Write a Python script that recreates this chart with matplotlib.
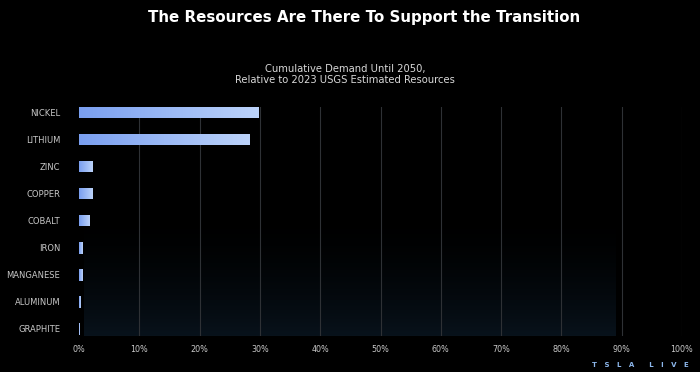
import numpy as np
import matplotlib
matplotlib.use("Agg")
import matplotlib.pyplot as plt
from matplotlib.colors import LinearSegmentedColormap

# data
minerals = ["NICKEL", "LITHIUM", "ZINC", "COPPER", "COBALT", "IRON",
            "MANGANESE", "ALUMINUM", "GRAPHITE"]
demand_pct = [29.7, 28.2, 2.3, 2.3, 1.7, 0.6, 0.6, 0.2, 0.15]
xticks = [0, 10, 20, 30, 40, 50, 60, 70, 80, 90, 100]

title = "The Resources Are There To Support the Transition"
subtitle = "Cumulative Demand Until 2050,\nRelative to 2023 USGS Estimated Resources"

plt.rcParams['font.family'] = ['DejaVu Sans']

fig = plt.figure(figsize=(7, 3.72), dpi=100)
fig.patch.set_facecolor('black')
ax = fig.add_axes([79 / 700, 1 - 336 / 372, 603 / 700, 229 / 372])
ax.set_facecolor('black')

ypos = np.arange(len(minerals))
bar_h = 0.41

# faint navy glow in the lower part of the plot
glow = np.linspace(0, 1, 100).reshape(-1, 1) ** 1.8
glow_cmap = LinearSegmentedColormap.from_list("glow", ["#000000", "#08121b"])
ax.imshow(glow, cmap=glow_cmap, aspect='auto', extent=(0.8, 89, 8.26, 3.5),
          zorder=0, vmin=0, vmax=1)

for x in xticks[1:]:
    ax.axvline(x, color='#2e3135', lw=0.8, zorder=1)

# bars with a left-to-right blue gradient
bar_cmap = LinearSegmentedColormap.from_list("bar", ["#7a9ff0", "#bcd3fa"])
grad = np.linspace(0, 1, 256).reshape(1, -1)
bars = ax.barh(ypos, demand_pct, height=bar_h, color='#8fb0f3', zorder=2)
for b in bars:
    x0, y0 = b.get_x(), b.get_y()
    w, h = b.get_width(), b.get_height()
    im = ax.imshow(grad, cmap=bar_cmap, aspect='auto',
                   extent=(x0, x0 + w, y0 + h, y0), zorder=3)
    im.set_clip_path(b)
ax.set_xlim(0, 100)
ax.set_ylim(8.26, -0.22)

ax.set_yticks(ypos)
ax.set_yticklabels(minerals, fontsize=6, color='#c8c8c8')
ax.set_xticks(xticks)
ax.set_xticklabels([f"{x}%" for x in xticks], fontsize=5.8, color='#c8c8c8')
ax.tick_params(axis='both', length=0)
ax.tick_params(axis='y', pad=13.5)
ax.tick_params(axis='x', pad=6.5)
for s in ax.spines.values():
    s.set_visible(False)

fig.text(0.52, 0.953, title, ha='center', va='center', color='white',
         fontsize=10.8, fontweight='bold')
fig.text(0.493, 0.80, subtitle, ha='center', va='center', color='#d8d8d8',
         fontsize=7.2, linespacing=1.2)
fig.text(0.915, 0.018, "T   S   L   A      L   I   V   E",
         ha='center', va='center', color='#8cb6ea', fontsize=5,
         fontweight='bold')

fig.savefig("out.png", dpi=100, facecolor='black')
